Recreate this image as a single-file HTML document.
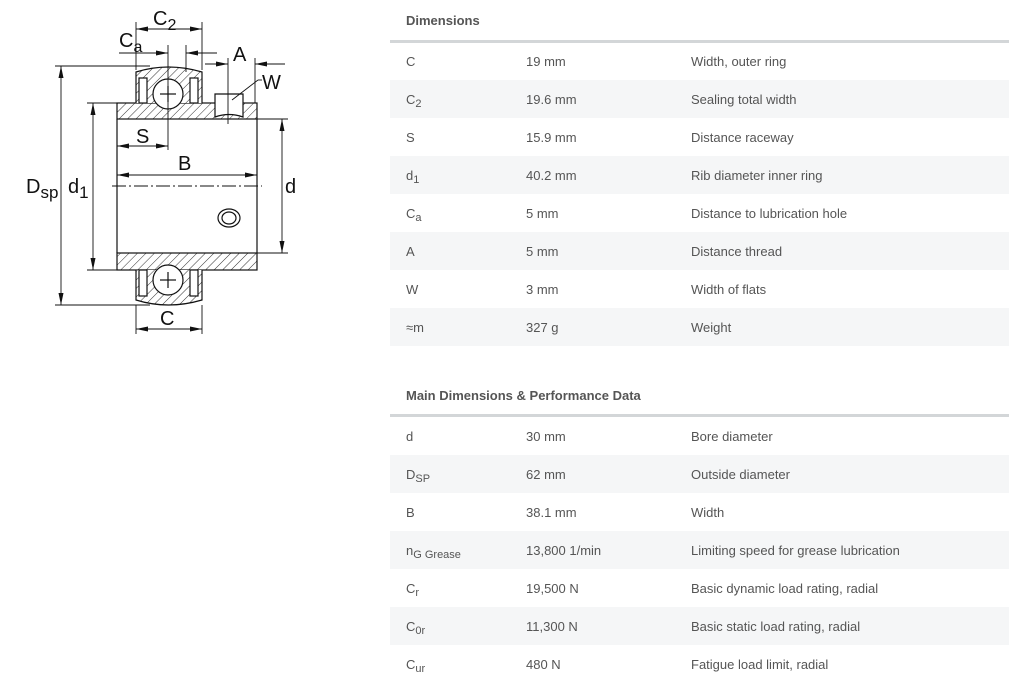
<!DOCTYPE html>
<html><head><meta charset="utf-8"><style>
body{margin:0;width:1009px;height:692px;background:#fff;position:relative;overflow:hidden;font-family:"Liberation Sans",Arial,sans-serif;color:#555;}
.h{position:absolute;left:406px;font-size:13px;font-weight:bold;color:#555;}
.line{position:absolute;left:390px;width:619px;height:3px;background:#d3d6d8;}
.row{position:absolute;left:390px;width:619px;height:38px;font-size:13px;}
.row.g{background:#f5f6f7;}
.row span{position:absolute;top:12px;}
.a{left:16px}.b{left:136px}.c{left:301px}
sub{font-size:11px;vertical-align:-3px;line-height:0}
</style></head><body>
<svg width="330" height="345" style="position:absolute;left:0;top:0" xmlns="http://www.w3.org/2000/svg">
<defs>
<pattern id="h" width="6" height="6" patternUnits="userSpaceOnUse" patternTransform="rotate(45)">
<rect width="6" height="6" fill="#fff"/><line x1="0" y1="0" x2="0" y2="6" stroke="#333" stroke-width="1"/></pattern>
<marker id="ar" markerWidth="12" markerHeight="6" refX="12" refY="3" orient="auto" markerUnits="userSpaceOnUse"><path d="M0,0.5 L12,3 L0,5.5z" fill="#111"/></marker>
</defs>
<g stroke="#111" stroke-width="1.2" fill="none">
<!-- inner ring -->
<rect x="117" y="103" width="140" height="16" fill="url(#h)"/>
<rect x="117" y="253" width="140" height="17" fill="url(#h)"/>
<line x1="117" y1="119" x2="117" y2="253"/>
<line x1="257" y1="119" x2="257" y2="253"/>
<!-- outer ring top -->
<path d="M136,103 V72 Q168,62 202,72 V103" fill="url(#h)"/>
<rect x="139" y="78" width="8" height="25" fill="#fff"/>
<rect x="190" y="78" width="8" height="25" fill="#fff"/>
<path d="M136,270 V300 Q168,310 202,300 V270" fill="url(#h)"/>
<rect x="139" y="270" width="8" height="26" fill="#fff"/>
<rect x="190" y="270" width="8" height="26" fill="#fff"/>
<circle cx="168" cy="94" r="15" fill="#fff"/>
<circle cx="168" cy="280" r="15" fill="#fff"/>
<line x1="160" y1="94" x2="176" y2="94"/><line x1="168" y1="86" x2="168" y2="102"/>
<line x1="160" y1="280" x2="176" y2="280"/><line x1="168" y1="272" x2="168" y2="288"/>
<!-- set screw -->
<path d="M215,94 H243 V117 Q229,112 215,117 Z" fill="#fff"/>
<ellipse cx="229" cy="218" rx="11" ry="9"/><ellipse cx="229" cy="218" rx="7" ry="6"/>
<!-- extension lines -->
<g stroke-width="0.9">
<line x1="55" y1="66" x2="150" y2="66"/><line x1="55" y1="305" x2="150" y2="305"/>
<line x1="87" y1="103" x2="117" y2="103"/><line x1="87" y1="270" x2="117" y2="270"/>
<line x1="257" y1="119" x2="288" y2="119"/><line x1="257" y1="253" x2="288" y2="253"/>
<line x1="136" y1="22" x2="136" y2="70"/><line x1="202" y1="22" x2="202" y2="70"/>
<line x1="168" y1="45" x2="168" y2="150"/><line x1="186" y1="45" x2="186" y2="72"/>
<line x1="228" y1="58" x2="228" y2="124"/><line x1="255" y1="58" x2="255" y2="103"/>
<line x1="136" y1="305" x2="136" y2="334"/><line x1="202" y1="305" x2="202" y2="334"/>
<line x1="112" y1="186" x2="262" y2="186" stroke-dasharray="14,3,2,3"/>
<line x1="232" y1="100" x2="258" y2="80"/><line x1="258" y1="80" x2="262" y2="80"/>
</g>
<!-- dimension lines -->
<g stroke-width="0.9">
<line x1="61" y1="185" x2="61" y2="66" marker-end="url(#ar)"/><line x1="61" y1="185" x2="61" y2="305" marker-end="url(#ar)"/>
<line x1="93" y1="185" x2="93" y2="103" marker-end="url(#ar)"/><line x1="93" y1="185" x2="93" y2="270" marker-end="url(#ar)"/>
<line x1="282" y1="185" x2="282" y2="119" marker-end="url(#ar)"/><line x1="282" y1="185" x2="282" y2="253" marker-end="url(#ar)"/>
<line x1="187" y1="175" x2="117" y2="175" marker-end="url(#ar)"/><line x1="187" y1="175" x2="257" y2="175" marker-end="url(#ar)"/>
<line x1="142" y1="146" x2="117" y2="146" marker-end="url(#ar)"/><line x1="142" y1="146" x2="168" y2="146" marker-end="url(#ar)"/>
<line x1="169" y1="329" x2="136" y2="329" marker-end="url(#ar)"/><line x1="169" y1="329" x2="202" y2="329" marker-end="url(#ar)"/>
<line x1="169" y1="29" x2="136" y2="29" marker-end="url(#ar)"/><line x1="169" y1="29" x2="202" y2="29" marker-end="url(#ar)"/>
<line x1="119" y1="53" x2="168" y2="53" marker-end="url(#ar)"/><line x1="217" y1="53" x2="186" y2="53" marker-end="url(#ar)"/>
<line x1="205" y1="64" x2="228" y2="64" marker-end="url(#ar)"/><line x1="285" y1="64" x2="255" y2="64" marker-end="url(#ar)"/>
</g>
</g>
<g font-family="Liberation Sans,Arial,sans-serif" font-size="20" fill="#111">
<text x="153" y="25">C<tspan font-size="16" dy="5">2</tspan></text>
<text x="119" y="47">C<tspan font-size="16" dy="5">a</tspan></text>
<text x="233" y="61">A</text>
<text x="262" y="89">W</text>
<text x="136" y="143">S</text>
<text x="178" y="170">B</text>
<text x="26" y="193">D<tspan font-size="17" dy="5">sp</tspan></text>
<text x="68" y="193">d<tspan font-size="17" dy="5">1</tspan></text>
<text x="285" y="193">d</text>
<text x="160" y="325">C</text>
</g>
</svg>

<div class="h" style="top:13px">Dimensions</div>
<div class="line" style="top:40px"></div>
<div class="row" style="top:42px"><span class="a">C</span><span class="b">19 mm</span><span class="c">Width, outer ring</span></div>
<div class="row g" style="top:80px"><span class="a">C<sub>2</sub></span><span class="b">19.6 mm</span><span class="c">Sealing total width</span></div>
<div class="row" style="top:118px"><span class="a">S</span><span class="b">15.9 mm</span><span class="c">Distance raceway</span></div>
<div class="row g" style="top:156px"><span class="a">d<sub>1</sub></span><span class="b">40.2 mm</span><span class="c">Rib diameter inner ring</span></div>
<div class="row" style="top:194px"><span class="a">C<sub>a</sub></span><span class="b">5 mm</span><span class="c">Distance to lubrication hole</span></div>
<div class="row g" style="top:232px"><span class="a">A</span><span class="b">5 mm</span><span class="c">Distance thread</span></div>
<div class="row" style="top:270px"><span class="a">W</span><span class="b">3 mm</span><span class="c">Width of flats</span></div>
<div class="row g" style="top:308px"><span class="a">≈m</span><span class="b">327 g</span><span class="c">Weight</span></div>

<div class="h" style="top:388px">Main Dimensions &amp; Performance Data</div>
<div class="line" style="top:414px"></div>
<div class="row" style="top:417px"><span class="a">d</span><span class="b">30 mm</span><span class="c">Bore diameter</span></div>
<div class="row g" style="top:455px"><span class="a">D<sub>SP</sub></span><span class="b">62 mm</span><span class="c">Outside diameter</span></div>
<div class="row" style="top:493px"><span class="a">B</span><span class="b">38.1 mm</span><span class="c">Width</span></div>
<div class="row g" style="top:531px"><span class="a">n<sub>G Grease</sub></span><span class="b">13,800 1/min</span><span class="c">Limiting speed for grease lubrication</span></div>
<div class="row" style="top:569px"><span class="a">C<sub>r</sub></span><span class="b">19,500 N</span><span class="c">Basic dynamic load rating, radial</span></div>
<div class="row g" style="top:607px"><span class="a">C<sub>0r</sub></span><span class="b">11,300 N</span><span class="c">Basic static load rating, radial</span></div>
<div class="row" style="top:645px"><span class="a">C<sub>ur</sub></span><span class="b">480 N</span><span class="c">Fatigue load limit, radial</span></div>
</body></html>
